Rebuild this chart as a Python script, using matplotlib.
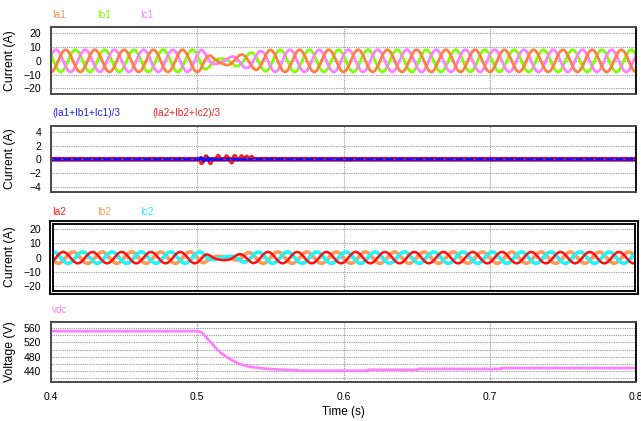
import numpy as np
import matplotlib
matplotlib.use("Agg")
import matplotlib.pyplot as plt
from matplotlib.patches import Rectangle
from matplotlib.ticker import MultipleLocator

plt.rcParams['font.family'] = ['Liberation Sans', 'DejaVu Sans']

# ---------------- data ----------------
FREQ_HZ = 50.0
T_START, T_END = 0.4, 0.8

# panel 1: group-1 phase currents, amplitude envelope and offset of Ia1
env1_t = [0.400, 0.503, 0.508, 0.512, 0.516, 0.520, 0.525, 0.530, 0.535, 0.540, 0.548, 0.555, 0.800]
env1_a = [8.0, 8.0, 5.0, 2.5, 1.5, 2.0, 3.5, 4.5, 5.5, 6.5, 7.8, 8.0, 8.0]
off1_t = [0.400, 0.506, 0.512, 0.520, 0.526, 0.800]
off1_v = [0.0, 0.0, -1.0, -1.0, 0.0, 0.0]

# panel 3: group-2 phase currents
env2_t = [0.400, 0.503, 0.506, 0.510, 0.515, 0.522, 0.527, 0.531, 0.538, 0.545, 0.800]
env2_a = [4.0, 4.0, 3.0, 1.5, 0.8, 0.8, 2.0, 3.0, 3.8, 4.0, 4.0]
off2_t = [0.400, 0.506, 0.511, 0.522, 0.527, 0.800]
off2_v = [0.0, 0.0, -1.0, -1.0, 0.0, 0.0]
phase2_deg = 30.0

# panel 2: zero-sequence currents, disturbance spikes
zs1_spike_t = [0.5025, 0.5045, 0.5065, 0.5085]
zs1_spike_h = [0.25, -0.25, 0.3, -0.2]
zs2_spike_t = [0.5030, 0.5060, 0.5090, 0.5143, 0.5201, 0.5235, 0.5256, 0.5303, 0.5338, 0.5372]
zs2_spike_h = [-0.5, 0.4, -0.5, 0.45, 0.4, -0.4, 0.45, 0.4, 0.35, 0.3]

# panel 4: dc-link voltage
vdc_t = [0.400, 0.500, 0.503, 0.5063, 0.511, 0.5154, 0.520, 0.5245, 0.529, 0.536, 0.547,
         0.561, 0.568, 0.568, 0.617, 0.617, 0.651, 0.651, 0.708, 0.708, 0.800]
vdc_v = [552, 552, 549, 534, 512, 493, 479, 468, 459, 451, 445.5,
         442, 441.5, 440, 440, 442.5, 442.5, 445, 445, 447.5, 447.5]

x_ticks = [0.4, 0.5, 0.6, 0.7, 0.8]
x_tick_labels = ['0.4', '0.5', '0.6', '0.7', '0.8']

# ---------------- build series ----------------
t = np.linspace(T_START, T_END, 16001)
theta = 2 * np.pi * FREQ_HZ * t
A1 = np.interp(t, env1_t, env1_a)
O1 = np.interp(t, off1_t, off1_v)
A2 = np.interp(t, env2_t, env2_a)
O2 = np.interp(t, off2_t, off2_v)
ph2 = np.deg2rad(phase2_deg)

ia1 = -A1 * np.cos(theta) + O1
ib1 = -A1 * np.cos(theta - 2 * np.pi / 3)
ic1 = -A1 * np.cos(theta + 2 * np.pi / 3)
ia2 = -A2 * np.cos(theta + ph2) + O2
ib2 = -A2 * np.cos(theta + ph2 - 2 * np.pi / 3)
ic2 = -A2 * np.cos(theta + ph2 + 2 * np.pi / 3)


def spikes(times, heights, w=0.0008):
    xs, ys = [T_START], [0.0]
    for tt, hh in zip(times, heights):
        xs += [tt - w, tt, tt + w]
        ys += [0.0, hh, 0.0]
    xs.append(T_END)
    ys.append(0.0)
    return xs, ys


# ---------------- figure ----------------
W, H = 641, 421
fig = plt.figure(figsize=(W / 100, H / 100), dpi=100)


def add_ax(top, bottom):
    left, right = 51, 636
    return fig.add_axes([left / W, 1 - bottom / H, (right - left) / W, (bottom - top) / H])


ax1 = add_ax(27, 94)
ax2 = add_ax(126, 192)
ax3 = add_ax(222, 292)
ax4 = add_ax(322, 382)
axes = [ax1, ax2, ax3, ax4]

grid_kw = dict(color='#9a9a9a', linestyle=(0, (1, 1)), linewidth=0.8)

for ax in axes:
    ax.set_xlim(T_START, T_END)
    ax.set_xticks(x_ticks)
    ax.tick_params(axis='both', length=0, labelsize=7.5, pad=7)
    ax.grid(True, which='both', **grid_kw)
    ax.set_axisbelow(True)
    for s in ax.spines.values():
        s.set_color('#4a4a4a')
        s.set_linewidth(1.4)
    ax.spines['right'].set_color('#111111')

for ax in axes[:3]:
    ax.set_xticklabels([])
ax4.set_xticklabels(x_tick_labels)
ax4.tick_params(axis='x', pad=7)

# panel 1
ax1.plot(t, ib1, color='#80ff00', lw=2.0)
ax1.plot(t, ic1, color='#ff80ff', lw=2.0)
ax1.plot(t, ia1, color='#ff7f40', lw=2.0)
ax1.set_ylim(-24, 24.5)
ax1.set_yticks([-20, -10, 0, 10, 20])

# panel 2
sx2, sy2 = spikes(zs2_spike_t, zs2_spike_h)
sx1, sy1 = spikes(zs1_spike_t, zs1_spike_h)
ax2.plot(sx2, sy2, color='#ff1a1a', lw=3.5, solid_capstyle='butt')
ax2.plot(sx1, sy1, color='#1010ff', lw=2.4)
ax2.plot(sx2, sy2, color='#ff2020', lw=0.9, dashes=(2, 6))
ax2.set_ylim(-4.8, 4.9)
ax2.set_yticks([-4, -2, 0, 2, 4])

# panel 3
ax3.plot(t, ib2, color='#ff9a5c', lw=2.6)
ax3.plot(t, ic2, color='#20f4f4', lw=2.6)
ax3.plot(t, ia2, color='#ff1010', lw=1.8)
ax3.set_ylim(-24.2, 25.1)
ax3.set_yticks([-20, -10, 0, 10, 20])
for s in ax3.spines.values():
    s.set_color('#111111')
    s.set_linewidth(3.6)
ax3.add_patch(Rectangle((0, 0), 1, 1, transform=ax3.transAxes, fill=False,
                        edgecolor='white', lw=0.7, clip_on=False, zorder=10))

# panel 4
ax4.plot(vdc_t, vdc_v, color='#ff80ff', lw=2.0)
ax4.set_ylim(408, 578)
ax4.set_yticks([440, 480, 520, 560])
ax4.yaxis.set_minor_locator(MultipleLocator(20))
ax4.tick_params(axis='y', which='minor', length=0)
ax4.set_xlabel('Time (s)', fontsize=8.5, labelpad=3)

for ax in (ax1, ax2, ax3):
    ax.set_ylabel('Current (A)', fontsize=8.8)
ax4.set_ylabel('Voltage (V)', fontsize=8.8)
for ax in axes:
    ax.yaxis.set_label_coords(-0.06, 0.5)


def label(x, y, s, c):
    fig.text(x / W, 1 - y / H, s, color=c, fontsize=7.2, ha='left', va='center')


label(52, 15, 'Ia1', '#ff8c5a')
label(97, 15, 'Ib1', '#80ff00')
label(140, 15, 'Ic1', '#ff80ff')
label(52, 113, '(Ia1+Ib1+Ic1)/3', '#2020ff')
label(152, 113, '(Ia2+Ib2+Ic2)/3', '#ff2020')
label(52, 212, 'Ia2', '#ff1a1a')
label(97, 212, 'Ib2', '#ff9a5c')
label(140, 212, 'Ic2', '#20f4f4')
label(52, 310, 'vdc', '#ff80ff')

fig.savefig('out.png', dpi=100)
